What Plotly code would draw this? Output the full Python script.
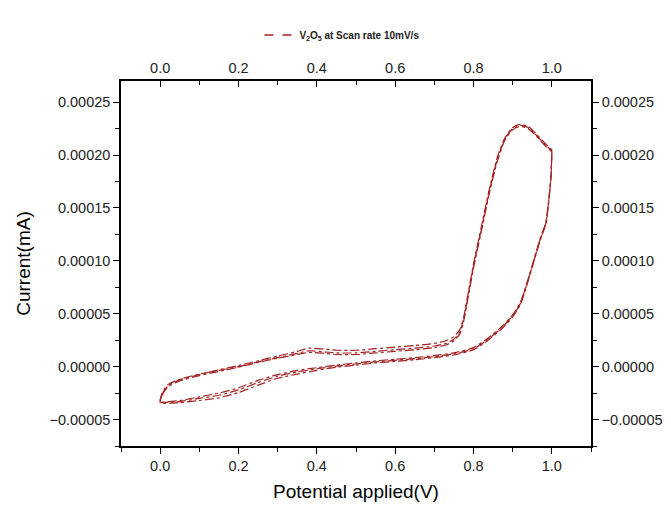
import plotly.graph_objects as go

"""CV data for V2O5 at 10 mV/s (3 cycles read from the plot)"""
# forward scan potentials (V)
fwd_v = [0.0, 0.005, 0.02, 0.05, 0.1, 0.15, 0.2, 0.25, 0.3, 0.35, 0.38, 0.42, 0.45, 0.5, 0.55, 0.6,
         0.65, 0.7, 0.73, 0.75, 0.765, 0.775, 0.785, 0.8, 0.82, 0.84, 0.86, 0.88, 0.9, 0.92, 0.94,
         0.96, 0.98, 1.0]
# reverse scan potentials (V)
rev_v = [1.0, 0.998, 0.993, 0.985, 0.97, 0.95, 0.92, 0.9, 0.87, 0.83, 0.8, 0.75, 0.7, 0.65, 0.6,
         0.55, 0.5, 0.45, 0.4, 0.35, 0.3, 0.25, 0.2, 0.15, 0.1, 0.05, 0.0]

# currents (mA), forward branch per cycle
fwd_c1 = [-3.3e-5, -2.5e-5, -1.7e-5, -1.2e-5, -0.7e-5, -0.35e-5, 0.0, 0.45e-5, 0.85e-5, 1.25e-5,
          1.5e-5, 1.4e-5, 1.3e-5, 1.3e-5, 1.45e-5, 1.6e-5, 1.75e-5, 1.95e-5, 2.2e-5, 2.6e-5,
          3.3e-5, 4.5e-5, 6.5e-5, 9.5e-5, 13.0e-5, 16.5e-5, 19.5e-5, 21.5e-5, 22.5e-5, 22.8e-5,
          22.6e-5, 21.9e-5, 21.1e-5, 20.4e-5]
fwd_c2 = [-3.4e-5, -2.7e-5, -1.9e-5, -1.35e-5, -0.85e-5, -0.45e-5, -0.05e-5, 0.4e-5, 0.8e-5, 1.15e-5,
          1.35e-5, 1.25e-5, 1.15e-5, 1.15e-5, 1.3e-5, 1.45e-5, 1.6e-5, 1.8e-5, 2.05e-5, 2.45e-5,
          3.1e-5, 4.3e-5, 6.3e-5, 9.3e-5, 12.8e-5, 16.3e-5, 19.3e-5, 21.4e-5, 22.4e-5, 22.7e-5,
          22.5e-5, 21.8e-5, 21.0e-5, 20.3e-5]
fwd_c3 = [-3.3e-5, -2.6e-5, -1.8e-5, -1.25e-5, -0.75e-5, -0.3e-5, 0.1e-5, 0.55e-5, 1.0e-5, 1.45e-5,
          1.75e-5, 1.65e-5, 1.55e-5, 1.55e-5, 1.7e-5, 1.85e-5, 2.0e-5, 2.2e-5, 2.45e-5, 2.85e-5,
          3.5e-5, 4.7e-5, 6.7e-5, 9.7e-5, 13.2e-5, 16.7e-5, 19.7e-5, 21.6e-5, 22.6e-5, 22.9e-5,
          22.7e-5, 22.0e-5, 21.2e-5, 20.5e-5]

# currents (mA), reverse branch per cycle
rev_c1 = [20.4e-5, 18.0e-5, 16.0e-5, 13.6e-5, 12.0e-5, 9.5e-5, 6.0e-5, 4.8e-5, 3.6e-5, 2.4e-5,
          1.7e-5, 1.2e-5, 0.95e-5, 0.75e-5, 0.6e-5, 0.45e-5, 0.25e-5, 0.05e-5, -0.2e-5, -0.5e-5,
          -0.9e-5, -1.5e-5, -2.2e-5, -2.7e-5, -3.0e-5, -3.3e-5, -3.4e-5]
rev_c2 = [20.3e-5, 17.9e-5, 15.9e-5, 13.5e-5, 11.9e-5, 9.4e-5, 5.9e-5, 4.7e-5, 3.5e-5, 2.3e-5,
          1.6e-5, 1.1e-5, 0.85e-5, 0.65e-5, 0.5e-5, 0.35e-5, 0.15e-5, -0.05e-5, -0.35e-5, -0.7e-5,
          -1.1e-5, -1.75e-5, -2.45e-5, -2.95e-5, -3.2e-5, -3.4e-5, -3.4e-5]
rev_c3 = [20.5e-5, 18.1e-5, 16.1e-5, 13.7e-5, 12.1e-5, 9.6e-5, 6.1e-5, 4.9e-5, 3.7e-5, 2.5e-5,
          1.8e-5, 1.3e-5, 1.05e-5, 0.85e-5, 0.7e-5, 0.55e-5, 0.35e-5, 0.15e-5, -0.1e-5, -0.35e-5,
          -0.75e-5, -1.3e-5, -2.0e-5, -2.5e-5, -2.85e-5, -3.2e-5, -3.3e-5]

x_ticks = [0.0, 0.2, 0.4, 0.6, 0.8, 1.0]
y_ticks = [-0.00005, 0.0, 0.00005, 0.00010, 0.00015, 0.00020, 0.00025]

red = '#A32222'
font = 'Liberation Sans, Arial, sans-serif'

fig = go.Figure()

#All the cycles are drawn with the same dash-dot line
for fc, rc in [(fwd_c1, rev_c1), (fwd_c2, rev_c2), (fwd_c3, rev_c3)]:
    fig.add_trace(go.Scatter(x=fwd_v + rev_v, y=fc + rc, mode='lines', showlegend=False,
                             line=dict(color=red, width=1.2, dash='dashdot', shape='spline', smoothing=0.6)))

#legend only entry (dashed line)
fig.add_trace(go.Scatter(x=[None], y=[None], mode='lines', name='<b>V<sub>2</sub>O<sub>5</sub> at Scan rate 10mV/s</b>',
                         line=dict(color=red, width=1.4, dash='dash')))

axis_common = dict(showline=True, linecolor='black', linewidth=1.5, showgrid=False, zeroline=False,
                   automargin=False, tickcolor='black', ticklen=6, tickwidth=1.3,
                   tickfont=dict(size=14.5, color='#222'))

# the page body adds 8px around the figure, so the figure is 8px smaller and margins shifted
fig.update_layout(
    width=663, height=498,
    paper_bgcolor='white', plot_bgcolor='white',
    font=dict(family=font, color='black'),
    margin=dict(l=113, r=80, t=58, b=60),
    showlegend=True,
    legend=dict(x=0.47, y=1.126, xanchor='center', yanchor='middle', orientation='h',
                font=dict(size=10, color='#222'), bgcolor='rgba(0,0,0,0)'),
    xaxis=dict(range=[-0.1, 1.1], tickvals=x_ticks, tickformat='.1f', ticks='outside',
               minor=dict(dtick=0.1, ticks='outside', ticklen=4, tickcolor='black'),
               title=dict(text='Potential applied(V)', font=dict(size=19), standoff=12), **axis_common),
    xaxis2=dict(range=[-0.1, 1.1], overlaying='x', side='top', matches='x', tickvals=x_ticks, tickformat='.1f',
                ticks='inside', minor=dict(dtick=0.1, ticks='inside', ticklen=4, tickcolor='black'), **axis_common),
    yaxis=dict(range=[-0.000075, 0.00027], tickvals=y_ticks, tickformat='.5f', ticks='outside',
               minor=dict(dtick=0.000025, tick0=0, ticks='outside', ticklen=4, tickcolor='black'),
               title=dict(text='Current(mA)', font=dict(size=19), standoff=14), **axis_common),
    yaxis2=dict(range=[-0.000075, 0.00027], overlaying='y', side='right', matches='y', tickvals=y_ticks,
                tickformat='.5f', ticks='outside',
                minor=dict(dtick=0.000025, tick0=0, ticks='outside', ticklen=4, tickcolor='black'), **axis_common),
)

# dummy invisible trace so the top and right axes get drawn
fig.add_trace(go.Scatter(x=[None], y=[None], xaxis='x2', yaxis='y2', showlegend=False, hoverinfo='skip'))

fig.write_html("out.html")
